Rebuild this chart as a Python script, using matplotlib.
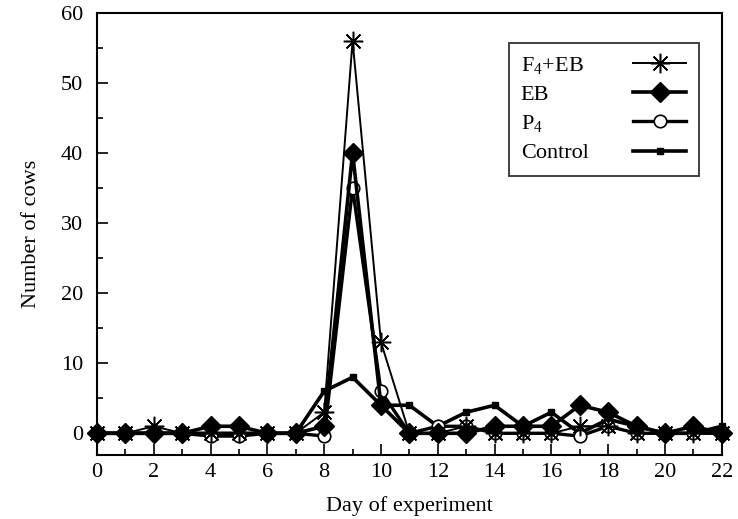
import numpy as np
import matplotlib.pyplot as plt
from matplotlib.ticker import MultipleLocator

plt.rcParams['font.family'] = ['Liberation Serif', 'DejaVu Serif']
plt.rcParams['mathtext.fontset'] = 'custom'
plt.rcParams['mathtext.rm'] = 'Liberation Serif'

days = list(range(23))
f4eb = [0, 0, 1, 0, 0, 0, 0, 0, 3, 56, 13, 0, 0, 1, 0, 0, 0, 1, 1, 0, 0, 0, 0]
eb = [0, 0, 0, 0, 1, 1, 0, 0, 1, 40, 4, 0, 0, 0, 1, 1, 1, 4, 3, 1, 0, 1, 0]
p4 = [0, 0, 0, 0, -0.4, -0.4, 0, 0, -0.4, 35, 6, 0, 1, 1, 0, 0, 0, -0.4, 1, 0, 0, 0, 0]
control = [0, 0, 0, 0, 0, 0, 0, 0, 6, 8, 4, 4, 1, 3, 4, 1, 3, 0, 2, 1, 0, 0, 1]

fs = 16

fig = plt.figure(figsize=(7.38, 5.19), dpi=100)
ax = fig.add_axes([0.1314, 0.1233, 0.8466, 0.852])

ax.plot(days, control, color='black', lw=2.6, marker='s', ms=5, clip_on=False, label='Control')
ax.plot(days, p4, color='black', lw=2.4, marker='o', ms=9, mfc='white', mew=1.2, clip_on=False, label=r'P$_\mathrm{4}$')
ax.plot(days, f4eb, color='black', lw=1.4, marker=(8, 2, 0), ms=14, mew=1.1, clip_on=False, label=r'F$_\mathrm{4}$+EB')
ax.plot(days, eb, color='black', lw=2.6, marker='D', ms=10, clip_on=False, label='EB')

ax.set_xlim(0, 22)
ax.set_ylim(-3.1, 60)
ax.xaxis.set_major_locator(MultipleLocator(2))
ax.xaxis.set_minor_locator(MultipleLocator(1))
ax.yaxis.set_major_locator(MultipleLocator(10))
ax.yaxis.set_minor_locator(MultipleLocator(5))
ax.tick_params(which='both', direction='in', top=False, right=False, labelsize=fs)
ax.tick_params(axis='x', which='major', length=8, width=1.2, pad=6)
ax.tick_params(axis='x', which='minor', length=4, width=1.2)
ax.tick_params(axis='y', which='major', length=8, width=1.2, pad=10)
ax.tick_params(axis='y', which='minor', length=4, width=1.2)
for s in ax.spines.values():
    s.set_linewidth(1.5)

ax.set_xlabel('Day of experiment', fontsize=fs, labelpad=10)
ax.set_ylabel('Number of cows', fontsize=fs, labelpad=14)

h, l = ax.get_legend_handles_labels()
order = [2, 3, 1, 0]
leg = ax.legend([h[i] for i in order], [l[i] for i in order], loc='upper right',
                bbox_to_anchor=(0.963, 0.932), markerfirst=False, fontsize=fs,
                frameon=True, fancybox=False, edgecolor='black', handlelength=2.4,
                labelspacing=0.36, borderpad=0.55, handletextpad=2.0, borderaxespad=0)
leg.get_frame().set_linewidth(1.3)

# labels left aligned, handles in one column on the right
fig.canvas.draw()
r = fig.canvas.get_renderer()
widths = [t.get_window_extent(r).width for t in leg.get_texts()]
wmax = max(widths)
rows = leg._legend_handle_box.get_children()[0].get_children()
for row, w in zip(rows, widths):
    row.sep = row.sep + (wmax - w) * 72.0 / fig.dpi

fig.savefig('out.png', dpi=100)
